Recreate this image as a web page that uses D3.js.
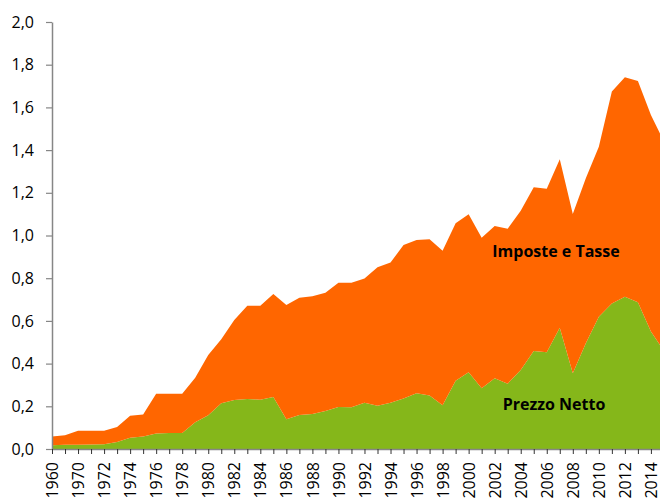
<!DOCTYPE html>
<html>
<head>
<meta charset="utf-8">
<script src="https://cdn.jsdelivr.net/npm/d3@7"></script>
<style>
  body { margin: 0; background: #fff; }
  svg { display: block; }
  .tick text { font-family: "Open Sans", "Liberation Sans", sans-serif; font-size: 16px; fill: #000; }
  .lbl { font-family: "Open Sans", "Liberation Sans", sans-serif; font-size: 16px; font-weight: bold; fill: #000; }
</style>
</head>
<body>
<div id="chart"></div>
<script>
var svgWidth = 660;
var svgHeight = 501;

// categories (the second one is an unlabelled 5-year step)
var anni = ["1960", "1965"];
for (var a = 1970; a <= 2015; a++) anni.push(String(a));

// euro/litro
var prezzoNetto = [0.017, 0.020, 0.020, 0.021, 0.022, 0.033, 0.053, 0.059, 0.073, 0.075,
  0.075, 0.125, 0.158, 0.214, 0.229, 0.234, 0.231, 0.244, 0.139, 0.159,
  0.164, 0.178, 0.197, 0.195, 0.217, 0.203, 0.217, 0.237, 0.261, 0.251,
  0.205, 0.320, 0.359, 0.284, 0.331, 0.306, 0.370, 0.459, 0.453, 0.568,
  0.355, 0.495, 0.620, 0.682, 0.713, 0.687, 0.550, 0.460];

var imposteTasse = [0.041, 0.044, 0.066, 0.065, 0.064, 0.070, 0.103, 0.103, 0.186, 0.184,
  0.184, 0.209, 0.282, 0.300, 0.375, 0.437, 0.440, 0.482, 0.535, 0.550,
  0.551, 0.554, 0.582, 0.584, 0.582, 0.648, 0.656, 0.719, 0.718, 0.731,
  0.724, 0.737, 0.740, 0.706, 0.713, 0.726, 0.746, 0.767, 0.766, 0.789,
  0.746, 0.773, 0.796, 0.992, 1.028, 1.037, 1.014, 0.980];

var yTicks = [0, 0.2, 0.4, 0.6, 0.8, 1.0, 1.2, 1.4, 1.6, 1.8, 2.0];

var serie = ["prezzo", "imposte"];
var colori = { prezzo: "#85b71a", imposte: "#ff6600" };

var rows = anni.map(function(d, i) {
  return { anno: d, prezzo: prezzoNetto[i], imposte: imposteTasse[i] };
});

var margin = { top: 22, left: 52, bottom: 52 };
var plotBottom = svgHeight - margin.bottom;

var svg = d3.select("#chart")
  .append("svg")
  .attr("width", svgWidth)
  .attr("height", svgHeight);

var xScale = d3.scalePoint()
  .domain(anni)
  .range([margin.left, margin.left + 13.02 * (anni.length - 1)]);

var yScale = d3.scaleLinear()
  .domain([0, 2])
  .range([plotBottom, margin.top]);

var stacked = d3.stack().keys(serie)(rows);

var area = d3.area()
  .x(d => xScale(d.data.anno))
  .y0(d => yScale(d[0]))
  .y1(d => yScale(d[1]));

svg.append("g").selectAll("path")
  .data(stacked)
  .enter()
  .append("path")
  .attr("d", area)
  .attr("fill", d => colori[d.key]);

var fmt = function(v) { return d3.format(".1f")(v).replace(".", ","); };

// Y axis
var leftAxis = d3.axisLeft(yScale)
  .tickValues(yTicks)
  .tickFormat(fmt)
  .tickSize(6)
  .tickSizeOuter(0)
  .tickPadding(12);

var gy = svg.append("g")
  .attr("transform", `translate(${margin.left}, 0)`)
  .call(leftAxis);
gy.select(".domain").attr("stroke", "#868686").attr("stroke-width", 1.5);
gy.selectAll(".tick line").attr("stroke", "#868686").attr("stroke-width", 1.2);

// X axis
var bottomAxis = d3.axisBottom(xScale)
  .tickSize(5)
  .tickSizeOuter(0)
  .tickFormat((d, i) => i % 2 === 0 ? d : "");

var gx = svg.append("g")
  .attr("transform", `translate(0, ${plotBottom})`)
  .call(bottomAxis);
gx.select(".domain").attr("stroke", "#868686").attr("stroke-width", 1.5);
gx.selectAll(".tick line").attr("stroke", "#333").attr("stroke-width", 1);
gx.selectAll(".tick text")
  .attr("transform", "rotate(-90)")
  .attr("text-anchor", "end")
  .attr("x", -13)
  .attr("y", 0)
  .attr("dy", "0.35em");

// series labels
svg.append("text")
  .attr("class", "lbl")
  .attr("x", 556)
  .attr("y", 257)
  .attr("text-anchor", "middle")
  .text("Imposte e Tasse");

svg.append("text")
  .attr("class", "lbl")
  .attr("x", 554)
  .attr("y", 410)
  .attr("text-anchor", "middle")
  .text("Prezzo Netto");
</script>
</body>
</html>
